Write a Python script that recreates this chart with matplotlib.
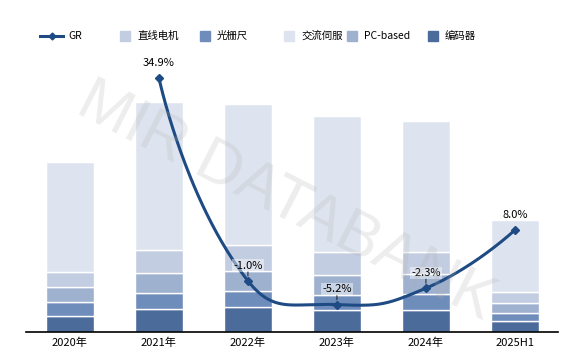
import numpy as np
import matplotlib
matplotlib.use('Agg')
import matplotlib.pyplot as plt
from matplotlib.patches import Rectangle
from matplotlib.lines import Line2D

plt.rcParams['font.family'] = ['Noto Sans CJK SC', 'DejaVu Sans']

# categories and stacked values (bottom to top)
years = ['2020年', '2021年', '2022年', '2023年', '2024年', '2025H1']
encoder = [15.7, 22.7, 24.7, 22.4, 21.7, 11.0]      # 编码器
grating = [14.0, 16.0, 16.0, 14.6, 16.3, 8.0]       # 光栅尺
pc_based = [15.0, 20.0, 20.6, 20.0, 19.7, 10.4]     # PC-based
linear_motor = [15.6, 23.0, 25.4, 23.4, 22.6, 11.0] # 直线电机
ac_servo = [109.7, 148.6, 141.3, 135.3, 130.7, 71.3] # 交流伺服
gr = [np.nan, 34.9, -1.0, -5.2, -2.3, 8.0]          # GR, %

series = [
    ('编码器', encoder, '#4b6b9b'),
    ('光栅尺', grating, '#6f8dba'),
    ('PC-based', pc_based, '#9eb1cf'),
    ('直线电机', linear_motor, '#c3cde1'),
    ('交流伺服', ac_servo, '#dee4ef'),
]
line_color = '#1f4b84'

W, H = 573, 364
fig = plt.figure(figsize=(W / 100, H / 100), dpi=100)
ax = fig.add_axes([26 / W, (H - 332) / H, 532 / W, 282 / H])

x = np.arange(len(years))
bottom = np.zeros(len(years))
for name, vals, color in series:
    ax.bar(x, vals, width=0.54, bottom=bottom, color=color,
           edgecolor='white', linewidth=1, zorder=2)
    bottom += np.array(vals)

ax.set_xlim(-0.494, 5.484)
ax.set_ylim(0, 282)
ax.set_yticks([])
for s in ['top', 'right', 'left']:
    ax.spines[s].set_visible(False)
ax.spines['bottom'].set_color('black')
ax.spines['bottom'].set_linewidth(1.2)
ax.set_xticks(x)
ax.set_xticklabels(years, fontsize=8)
ax.tick_params(axis='x', length=0, pad=4)

# growth rate line on secondary axis
ax2 = ax.twinx()
ax2.set_ylim(-10.05, 39.86)
ax2.axis('off')

gx = x[1:].astype(float)
gy = np.array(gr[1:])
pts = ax2.transData.transform(np.column_stack([gx, gy]))

# smooth bezier through points (echarts-like)
smooth = 0.5
n = len(pts)
cp_next = [None] * n
cp_prev = [None] * n
for i in range(n):
    if i == 0 or i == n - 1:
        cp_next[i] = pts[i]
        cp_prev[i] = pts[i]
        continue
    v = pts[i + 1] - pts[i - 1]
    l0 = np.hypot(*(pts[i] - pts[i - 1]))
    l1 = np.hypot(*(pts[i + 1] - pts[i]))
    r = l1 / (l0 + l1)
    cp_next[i] = pts[i] + v * smooth * r
    cp_prev[i] = pts[i] - v * smooth * (1 - r)
curve = []
t = np.linspace(0, 1, 60)[:, None]
for i in range(n - 1):
    p0, c0, c1, p1 = pts[i], cp_next[i], cp_prev[i + 1], pts[i + 1]
    b = (1 - t) ** 3 * p0 + 3 * (1 - t) ** 2 * t * c0 + 3 * (1 - t) * t ** 2 * c1 + t ** 3 * p1
    curve.append(b)
curve = ax2.transData.inverted().transform(np.vstack(curve))
ax2.plot(curve[:, 0], curve[:, 1], color=line_color, lw=2.2, zorder=5,
         solid_capstyle='round')
ax2.plot(gx, gy, 'D', color=line_color, ms=4, zorder=6)

for xi, yi in zip(gx, gy):
    if yi < 0:
        ax2.annotate(f'{yi:.1f}%', (xi, yi), xytext=(0, 11), textcoords='offset points',
                     ha='center', va='center', fontsize=8,
                     bbox=dict(boxstyle='square,pad=0.1', fc='white', ec='none', alpha=0.45),
                     zorder=7)
        ax2.annotate('', (xi, yi), xytext=(0, 6.5), textcoords='offset points',
                     arrowprops=dict(arrowstyle='-', color='black', lw=0.6,
                                     shrinkA=0, shrinkB=3.5), zorder=7)
    else:
        ax2.annotate(f'{yi:.1f}%', (xi, yi), xytext=(0, 11), textcoords='offset points',
                     ha='center', va='center', fontsize=8, zorder=7)

# watermark
fig.text(286 / W, 1 - 202 / H, 'MIR DATABANK', fontsize=45, rotation=-27,
         color='#b0b0b0', alpha=0.22, ha='center', va='center',
         family='Liberation Sans', zorder=10)

# legend
ly = 1 - 36 / H
fig.add_artist(Line2D([40 / W, 63 / W], [ly, ly], color=line_color, lw=2.2,
                      transform=fig.transFigure))
fig.add_artist(Line2D([51.5 / W], [ly], color=line_color, marker='D', ms=3.5,
                      transform=fig.transFigure))
fig.text(68 / W, ly, 'GR', fontsize=7.5, va='center')
legend_items = [('直线电机', '#c3cde1', 120), ('光栅尺', '#6f8dba', 200),
                ('交流伺服', '#dee4ef', 284), ('PC-based', '#9eb1cf', 347),
                ('编码器', '#4b6b9b', 428)]
for name, color, px in legend_items:
    fig.add_artist(Rectangle((px / W, ly - 5 / H), 10 / W, 10 / H, color=color,
                             transform=fig.transFigure))
    fig.text((px + 17) / W, ly, name, fontsize=7.5, va='center')

fig.savefig('out.png', dpi=100)
